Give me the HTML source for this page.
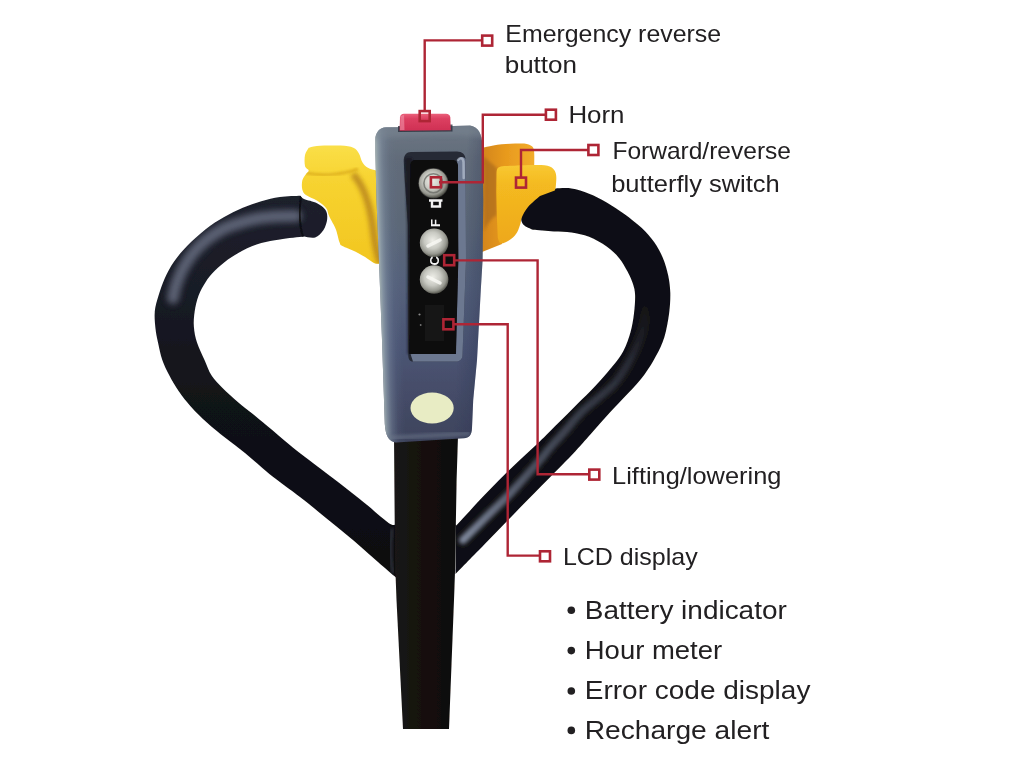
<!DOCTYPE html>
<html>
<head>
<meta charset="utf-8">
<title>Handle controls</title>
<style>
html,body{margin:0;padding:0;background:#ffffff;}
body{width:1024px;height:768px;overflow:hidden;font-family:"Liberation Sans",sans-serif;}
svg{display:block;}
text{font-family:"Liberation Sans",sans-serif;fill:#222022;}
</style>
</head>
<body>
<svg width="1024" height="768" viewBox="0 0 1024 768">
<defs>
  <linearGradient id="gHeadV" gradientUnits="userSpaceOnUse" x1="0" y1="126" x2="0" y2="442">
    <stop offset="0" stop-color="#6c7784"/>
    <stop offset="0.10" stop-color="#626c7a"/>
    <stop offset="0.30" stop-color="#5c6878"/>
    <stop offset="0.50" stop-color="#55617b"/>
    <stop offset="0.70" stop-color="#4b5574"/>
    <stop offset="0.85" stop-color="#454c68"/>
    <stop offset="1" stop-color="#3d435c"/>
  </linearGradient>
  <linearGradient id="gHL" gradientUnits="userSpaceOnUse" x1="375.3" y1="0" x2="396" y2="0" gradientTransform="matrix(1 0 0.0335 1 -4.690 0)">
    <stop offset="0" stop-color="#aab8b8" stop-opacity="0.85"/>
    <stop offset="0.12" stop-color="#98a8b2" stop-opacity="0.7"/>
    <stop offset="0.35" stop-color="#8494a8" stop-opacity="0.4"/>
    <stop offset="0.65" stop-color="#7484a0" stop-opacity="0.12"/>
    <stop offset="1" stop-color="#6a7a94" stop-opacity="0"/>
  </linearGradient>
  <linearGradient id="gHR" gradientUnits="userSpaceOnUse" x1="464" y1="0" x2="483.5" y2="0" gradientTransform="matrix(1 0 -0.0480 1 9.600 0)">
    <stop offset="0" stop-color="#2c3452" stop-opacity="0"/>
    <stop offset="1" stop-color="#2c3452" stop-opacity="0.32"/>
  </linearGradient>
  <radialGradient id="gBtn" cx="0.45" cy="0.42" r="0.58">
    <stop offset="0" stop-color="#eeeee8"/>
    <stop offset="0.5" stop-color="#c8c9c2"/>
    <stop offset="0.82" stop-color="#96978f"/>
    <stop offset="1" stop-color="#56574f"/>
  </radialGradient>
  <linearGradient id="gRed" x1="0" y1="0" x2="0" y2="1">
    <stop offset="0" stop-color="#ea5f7a"/>
    <stop offset="0.3" stop-color="#dc3f60"/>
    <stop offset="1" stop-color="#cf3054"/>
  </linearGradient>
  <linearGradient id="gLW" x1="0" y1="0" x2="0" y2="1">
    <stop offset="0" stop-color="#fadf48"/>
    <stop offset="0.3" stop-color="#f7d330"/>
    <stop offset="1" stop-color="#f2c620"/>
  </linearGradient>
  <linearGradient id="gRW" x1="0" y1="0" x2="0" y2="1">
    <stop offset="0" stop-color="#f8c832"/>
    <stop offset="0.25" stop-color="#f4ba20"/>
    <stop offset="1" stop-color="#eea81c"/>
  </linearGradient>
  <linearGradient id="gStem" gradientUnits="userSpaceOnUse" x1="394" y1="0" x2="458" y2="0">
    <stop offset="0" stop-color="#1a1715"/>
    <stop offset="0.5" stop-color="#14100d"/>
    <stop offset="1" stop-color="#0e0c0b"/>
  </linearGradient>
  <linearGradient id="gLT" gradientUnits="userSpaceOnUse" x1="0" y1="196" x2="0" y2="576">
    <stop offset="0" stop-color="#1d202c"/>
    <stop offset="0.3" stop-color="#181a24"/>
    <stop offset="0.55" stop-color="#111217"/>
    <stop offset="1" stop-color="#0e0d10"/>
  </linearGradient>
  <linearGradient id="gRHL" gradientUnits="userSpaceOnUse" x1="462" y1="541" x2="646" y2="300">
    <stop offset="0" stop-color="#8791a6" stop-opacity="0.95"/>
    <stop offset="0.30" stop-color="#727c92" stop-opacity="0.65"/>
    <stop offset="0.8" stop-color="#5a6378" stop-opacity="0.35"/>
    <stop offset="1" stop-color="#5a6378" stop-opacity="0"/>
  </linearGradient>
  <linearGradient id="gRWB" gradientUnits="userSpaceOnUse" x1="483" y1="0" x2="534" y2="0">
    <stop offset="0" stop-color="#d4861c"/>
    <stop offset="0.45" stop-color="#e89a1e"/>
    <stop offset="1" stop-color="#f2ac2a"/>
  </linearGradient>
  <filter id="soft" x="-5%" y="-5%" width="110%" height="110%"><feGaussianBlur stdDeviation="0.55"/></filter>
  <filter id="b05" x="-20%" y="-20%" width="140%" height="140%"><feGaussianBlur stdDeviation="0.6"/></filter>
  <filter id="b1" x="-20%" y="-20%" width="140%" height="140%"><feGaussianBlur stdDeviation="1"/></filter>
  <filter id="b15" x="-20%" y="-20%" width="140%" height="140%"><feGaussianBlur stdDeviation="1.5"/></filter>
  <filter id="b2" x="-20%" y="-20%" width="140%" height="140%"><feGaussianBlur stdDeviation="2"/></filter>
  <filter id="b3" x="-30%" y="-30%" width="160%" height="160%"><feGaussianBlur stdDeviation="3"/></filter>
  <clipPath id="cpHead"><path d="M386,127.3 L420,127 L470,125.6 C478,126.5 482.3,134 482.4,146 L483.3,200 L482.6,260 L480.8,290 L477,360 L473.2,400 L472,428 C471.8,435 469,438 464,438.3 L396,442.5 C389,442 385.6,436 384.8,424 L382,340 L379,262 L376.5,200 L375.3,150 L375.3,140 C375.3,132.5 380,127.3 386,127.3 Z"/></clipPath>
  <clipPath id="cpLT"><path d="M300.3,195.8 C296.9,196.0 286.4,196.1 279.9,197.0 C273.4,197.9 267.5,199.5 261.3,201.3 C255.1,203.1 249.0,205.2 242.8,207.8 C236.6,210.4 230.4,213.5 224.2,217.1 C218.0,220.7 211.9,224.4 205.7,229.2 C199.5,234.0 192.4,240.5 187.1,245.9 C181.8,251.3 177.8,256.2 174.1,261.6 C170.4,267.0 167.4,272.6 164.8,278.3 C162.2,284.0 160.1,290.5 158.4,296.0 C156.7,301.5 155.3,306.1 154.8,311.2 C154.3,316.4 154.8,321.7 155.3,326.9 C155.8,332.1 156.8,337.0 158.0,342.5 C159.2,348.0 160.4,354.5 162.3,360.0 C164.2,365.5 166.7,370.4 169.4,375.6 C172.1,380.8 175.1,386.0 178.8,391.2 C182.4,396.5 186.6,401.7 191.2,406.9 C195.9,412.1 201.2,417.3 206.9,422.5 C212.6,427.7 219.1,432.9 225.6,438.1 C232.1,443.3 238.6,447.8 245.9,453.8 C253.2,459.7 260.4,466.8 269.4,474.0 C278.4,481.2 290.6,489.7 300.0,497.0 C309.4,504.3 317.3,510.9 326.0,518.0 C334.7,525.0 343.3,532.0 352.0,539.3 C360.7,546.6 370.7,555.6 378.0,562.0 C385.3,568.4 393.0,574.9 396.0,577.5 L396.0,524.5 C394.8,524.2 393.7,526.5 388.6,523.0 C383.5,519.5 373.5,510.3 365.2,503.6 C356.9,496.9 347.2,489.2 339.0,482.8 C330.8,476.4 323.9,471.4 316.2,465.5 C308.6,459.6 300.1,453.4 292.8,447.5 C285.5,441.6 279.0,435.8 272.5,430.3 C266.0,424.8 259.5,419.4 253.8,414.7 C248.0,410.0 243.3,406.6 238.1,402.2 C232.9,397.8 226.9,392.5 222.5,388.1 C218.1,383.7 214.6,380.3 211.6,375.6 C208.6,370.9 206.9,365.5 204.5,360.0 C202.1,354.5 198.8,348.0 197.0,342.5 C195.2,337.0 194.3,332.1 193.9,326.9 C193.5,321.7 193.9,316.5 194.7,311.2 C195.5,306.0 196.8,300.5 198.6,295.6 C200.4,290.7 203.0,286.2 205.7,282.0 C208.4,277.8 211.3,274.3 215.0,270.6 C218.7,266.9 223.3,263.0 227.9,259.6 C232.5,256.2 237.2,253.2 242.8,250.4 C248.4,247.6 255.1,244.8 261.3,243.0 C267.5,241.2 272.8,240.5 279.9,239.4 C287.0,238.3 300.0,237.1 304.0,236.6 C305.9,236.8 311.9,238.6 315.2,237.5 C318.4,236.4 321.5,233.1 323.5,230.0 C325.5,226.9 326.9,222.4 327.2,219.0 C327.5,215.6 327.1,212.3 325.4,209.7 C323.7,207.1 320.6,205.0 317.0,203.2 C313.4,201.4 306.8,200.2 304.0,199.0 C301.2,197.8 300.9,196.3 300.3,195.8 Z"/></clipPath>
  <clipPath id="cpRT"><path d="M555.7,188.5 C558.3,188.5 565.9,187.6 571.5,188.5 C577.1,189.4 583.2,191.4 589.1,193.7 C595.0,196.0 600.8,199.1 606.7,202.5 C612.6,205.9 618.4,209.7 624.3,213.9 C630.1,218.2 636.8,223.3 641.8,228.0 C646.8,232.7 650.6,237.1 654.1,242.1 C657.6,247.1 660.5,252.3 662.9,257.9 C665.2,263.5 667.0,269.6 668.2,275.5 C669.4,281.4 670.1,286.7 670.3,293.0 C670.4,299.3 670.1,306.1 669.1,313.4 C668.1,320.7 666.5,329.9 664.4,336.9 C662.2,343.9 659.5,349.4 656.2,355.6 C652.9,361.9 649.2,368.1 644.5,374.4 C639.8,380.7 634.0,386.9 628.1,393.3 C622.2,399.7 615.6,406.2 609.4,413.0 C603.2,419.8 597.2,426.9 591.0,433.8 C584.8,440.7 580.5,445.9 572.3,454.5 C564.1,463.1 551.7,475.5 541.8,485.6 C531.9,495.7 522.6,505.2 513.0,515.0 C503.4,524.8 493.9,534.7 484.3,544.5 C474.7,554.3 460.3,569.1 455.5,574.0 L455.5,524.0 C455.9,524.0 452.9,528.8 457.7,524.0 C462.5,519.2 475.1,504.9 484.3,495.3 C493.5,485.7 503.9,475.3 513.0,466.5 C522.1,457.7 531.5,449.4 539.0,442.3 C546.5,435.2 551.5,429.9 557.8,423.6 C564.1,417.4 570.4,411.1 576.6,404.8 C582.9,398.6 589.4,392.4 595.3,386.1 C601.1,379.9 607.0,373.2 611.7,367.3 C616.4,361.4 620.3,356.8 623.4,350.9 C626.5,345.0 628.7,338.4 630.5,332.2 C632.3,325.9 633.2,319.6 634.0,313.4 C634.8,307.2 635.3,299.9 635.1,295.0 C634.9,290.1 634.2,287.8 633.0,284.0 C631.8,280.2 630.1,276.4 627.8,272.0 C625.5,267.6 622.5,262.1 619.0,257.9 C615.5,253.6 611.7,250.0 606.7,246.5 C601.7,243.0 595.0,239.2 589.1,236.8 C583.2,234.5 577.4,233.3 571.5,232.4 C565.6,231.5 560.3,231.9 553.9,231.5 C547.5,231.1 536.4,230.1 532.9,229.8 C531.3,228.9 525.1,226.8 523.2,224.5 C521.3,222.2 520.7,218.9 521.4,215.7 C522.1,212.5 524.5,208.9 527.6,205.2 C530.7,201.5 535.2,196.5 539.9,193.7 C544.6,190.9 553.1,189.4 555.7,188.5 Z"/></clipPath>
  <clipPath id="cpLW"><path d="M308.7,147.8 C310.1,147.4 311.6,146.3 316.9,145.9 C322.2,145.5 334.4,145.3 340.5,145.6 C346.6,145.9 350.3,146.5 353.3,147.8 C356.3,149.0 357.2,150.8 358.8,153.2 C360.3,155.6 360.9,159.9 362.4,162.3 C363.9,164.7 365.6,166.4 367.9,167.8 C370.2,169.2 374.6,170.1 376.0,170.5 L381.0,263.5 C380.0,263.5 377.3,264.2 375.1,263.4 C372.9,262.6 371.2,260.9 367.9,258.9 C364.6,256.9 359.4,253.7 355.1,251.6 C350.9,249.5 345.0,247.6 342.4,246.1 C339.8,244.6 340.7,245.2 339.6,242.5 C338.5,239.8 337.4,233.3 336.0,229.7 C334.6,226.0 332.6,223.0 331.4,220.6 C330.2,218.2 329.6,217.2 328.7,215.1 C327.8,213.0 328.0,210.3 326.0,207.9 C324.0,205.5 320.2,202.7 316.9,200.6 C313.5,198.5 308.3,196.9 305.9,195.1 C303.5,193.3 302.9,192.0 302.3,189.6 C301.7,187.2 301.7,183.1 302.3,180.5 C302.9,177.9 304.8,175.9 305.9,174.2 C307.0,172.5 308.8,171.9 308.7,170.5 C308.6,169.1 305.6,168.6 305.0,166.0 C304.4,163.4 304.4,158.0 305.0,155.0 C305.6,152.0 308.1,149.0 308.7,147.8 Z"/></clipPath>
  <clipPath id="cpRW"><path d="M496.5,176.0 C496.8,174.6 495.9,169.2 498.5,167.5 C501.1,165.8 506.2,166.2 512.0,165.8 C517.8,165.4 527.1,165.0 533.0,165.0 C538.9,165.0 544.0,165.0 547.5,165.8 C551.0,166.6 552.3,167.9 553.8,169.6 C555.2,171.3 555.9,173.0 556.2,175.8 C556.6,178.6 556.0,183.8 555.8,186.2 C555.6,188.7 555.0,189.8 554.8,190.5 L540.0,196.0 C538.0,197.8 531.0,203.5 528.0,207.0 C525.0,210.5 523.3,214.2 522.0,217.0 C520.7,219.8 521.2,221.2 520.4,223.8 C519.6,226.2 518.7,229.6 517.3,232.0 C515.9,234.4 514.0,236.6 512.0,238.3 C509.9,240.1 507.0,241.7 505.0,242.5 C503.0,243.3 501.2,243.8 500.0,243.0 C498.8,242.2 498.2,238.8 497.8,238.0 L496.8,215 L496.3,192 Z"/></clipPath>
</defs>
<rect width="1024" height="768" fill="#ffffff"/>


<g id="photo" filter="url(#soft)">
<!-- ===== LEFT HANDLE TUBE ===== -->
<g id="leftTube">
<path fill="url(#gLT)" d="M300.3,195.8 C296.9,196.0 286.4,196.1 279.9,197.0 C273.4,197.9 267.5,199.5 261.3,201.3 C255.1,203.1 249.0,205.2 242.8,207.8 C236.6,210.4 230.4,213.5 224.2,217.1 C218.0,220.7 211.9,224.4 205.7,229.2 C199.5,234.0 192.4,240.5 187.1,245.9 C181.8,251.3 177.8,256.2 174.1,261.6 C170.4,267.0 167.4,272.6 164.8,278.3 C162.2,284.0 160.1,290.5 158.4,296.0 C156.7,301.5 155.3,306.1 154.8,311.2 C154.3,316.4 154.8,321.7 155.3,326.9 C155.8,332.1 156.8,337.0 158.0,342.5 C159.2,348.0 160.4,354.5 162.3,360.0 C164.2,365.5 166.7,370.4 169.4,375.6 C172.1,380.8 175.1,386.0 178.8,391.2 C182.4,396.5 186.6,401.7 191.2,406.9 C195.9,412.1 201.2,417.3 206.9,422.5 C212.6,427.7 219.1,432.9 225.6,438.1 C232.1,443.3 238.6,447.8 245.9,453.8 C253.2,459.7 260.4,466.8 269.4,474.0 C278.4,481.2 290.6,489.7 300.0,497.0 C309.4,504.3 317.3,510.9 326.0,518.0 C334.7,525.0 343.3,532.0 352.0,539.3 C360.7,546.6 370.7,555.6 378.0,562.0 C385.3,568.4 393.0,574.9 396.0,577.5 L396.0,524.5 C394.8,524.2 393.7,526.5 388.6,523.0 C383.5,519.5 373.5,510.3 365.2,503.6 C356.9,496.9 347.2,489.2 339.0,482.8 C330.8,476.4 323.9,471.4 316.2,465.5 C308.6,459.6 300.1,453.4 292.8,447.5 C285.5,441.6 279.0,435.8 272.5,430.3 C266.0,424.8 259.5,419.4 253.8,414.7 C248.0,410.0 243.3,406.6 238.1,402.2 C232.9,397.8 226.9,392.5 222.5,388.1 C218.1,383.7 214.6,380.3 211.6,375.6 C208.6,370.9 206.9,365.5 204.5,360.0 C202.1,354.5 198.8,348.0 197.0,342.5 C195.2,337.0 194.3,332.1 193.9,326.9 C193.5,321.7 193.9,316.5 194.7,311.2 C195.5,306.0 196.8,300.5 198.6,295.6 C200.4,290.7 203.0,286.2 205.7,282.0 C208.4,277.8 211.3,274.3 215.0,270.6 C218.7,266.9 223.3,263.0 227.9,259.6 C232.5,256.2 237.2,253.2 242.8,250.4 C248.4,247.6 255.1,244.8 261.3,243.0 C267.5,241.2 272.8,240.5 279.9,239.4 C287.0,238.3 300.0,237.1 304.0,236.6 C305.9,236.8 311.9,238.6 315.2,237.5 C318.4,236.4 321.5,233.1 323.5,230.0 C325.5,226.9 326.9,222.4 327.2,219.0 C327.5,215.6 327.1,212.3 325.4,209.7 C323.7,207.1 320.6,205.0 317.0,203.2 C313.4,201.4 306.8,200.2 304.0,199.0 C301.2,197.8 300.9,196.3 300.3,195.8 Z"/>
<g clip-path="url(#cpLT)">
<path fill="none" stroke="#6a7185" stroke-width="12" stroke-linecap="round" opacity="0.8" filter="url(#b3)" d="M296.0,216.0 C293.3,216.0 285.7,215.9 279.9,216.2 C274.1,216.5 267.5,216.9 261.3,217.8 C255.1,218.8 249.0,220.1 242.8,221.9 C236.6,223.7 230.1,225.7 224.2,228.5 C218.3,231.3 212.5,235.1 207.5,239.0 C202.5,242.9 198.0,247.2 194.0,252.0 C190.0,256.8 186.5,262.0 183.5,267.5 C180.5,273.0 177.8,279.9 176.0,285.0 C174.2,290.1 173.5,295.8 173.0,298.0"/>
<path fill="none" stroke="#0a0a0e" stroke-width="2" opacity="0.8" filter="url(#b05)" d="M301,196 C299,210 299,224 303,237"/>
<path fill="none" stroke="#3a3f4c" stroke-width="4" stroke-linecap="round" opacity="0.6" filter="url(#b15)" d="M392,530 C390,545 390,560 393,572"/>
</g>
</g>

<!-- ===== RIGHT HANDLE TUBE ===== -->
<g id="rightTube">
<path fill="#0f0f13" d="M555.7,188.5 C558.3,188.5 565.9,187.6 571.5,188.5 C577.1,189.4 583.2,191.4 589.1,193.7 C595.0,196.0 600.8,199.1 606.7,202.5 C612.6,205.9 618.4,209.7 624.3,213.9 C630.1,218.2 636.8,223.3 641.8,228.0 C646.8,232.7 650.6,237.1 654.1,242.1 C657.6,247.1 660.5,252.3 662.9,257.9 C665.2,263.5 667.0,269.6 668.2,275.5 C669.4,281.4 670.1,286.7 670.3,293.0 C670.4,299.3 670.1,306.1 669.1,313.4 C668.1,320.7 666.5,329.9 664.4,336.9 C662.2,343.9 659.5,349.4 656.2,355.6 C652.9,361.9 649.2,368.1 644.5,374.4 C639.8,380.7 634.0,386.9 628.1,393.3 C622.2,399.7 615.6,406.2 609.4,413.0 C603.2,419.8 597.2,426.9 591.0,433.8 C584.8,440.7 580.5,445.9 572.3,454.5 C564.1,463.1 551.7,475.5 541.8,485.6 C531.9,495.7 522.6,505.2 513.0,515.0 C503.4,524.8 493.9,534.7 484.3,544.5 C474.7,554.3 460.3,569.1 455.5,574.0 L455.5,524.0 C455.9,524.0 452.9,528.8 457.7,524.0 C462.5,519.2 475.1,504.9 484.3,495.3 C493.5,485.7 503.9,475.3 513.0,466.5 C522.1,457.7 531.5,449.4 539.0,442.3 C546.5,435.2 551.5,429.9 557.8,423.6 C564.1,417.4 570.4,411.1 576.6,404.8 C582.9,398.6 589.4,392.4 595.3,386.1 C601.1,379.9 607.0,373.2 611.7,367.3 C616.4,361.4 620.3,356.8 623.4,350.9 C626.5,345.0 628.7,338.4 630.5,332.2 C632.3,325.9 633.2,319.6 634.0,313.4 C634.8,307.2 635.3,299.9 635.1,295.0 C634.9,290.1 634.2,287.8 633.0,284.0 C631.8,280.2 630.1,276.4 627.8,272.0 C625.5,267.6 622.5,262.1 619.0,257.9 C615.5,253.6 611.7,250.0 606.7,246.5 C601.7,243.0 595.0,239.2 589.1,236.8 C583.2,234.5 577.4,233.3 571.5,232.4 C565.6,231.5 560.3,231.9 553.9,231.5 C547.5,231.1 536.4,230.1 532.9,229.8 C531.3,228.9 525.1,226.8 523.2,224.5 C521.3,222.2 520.7,218.9 521.4,215.7 C522.1,212.5 524.5,208.9 527.6,205.2 C530.7,201.5 535.2,196.5 539.9,193.7 C544.6,190.9 553.1,189.4 555.7,188.5 Z"/>
<g clip-path="url(#cpRT)">
<path fill="none" stroke="url(#gRHL)" stroke-width="8" stroke-linecap="round" filter="url(#b2)" d="M646.0,300.0 C645.7,304.2 645.7,317.0 644.0,325.0 C642.3,333.0 639.0,341.0 636.0,348.0 C633.0,355.0 629.7,361.0 626.0,367.0 C622.3,373.0 618.7,378.8 614.0,384.0 C609.3,389.2 603.5,393.2 598.0,398.0 C592.5,402.8 586.5,407.0 581.0,412.5 C575.5,418.0 570.5,424.8 565.0,431.0 C559.5,437.2 551.9,445.5 548.0,450.0 C544.1,454.5 547.6,451.3 541.8,458.0 C536.0,464.7 522.6,480.2 513.0,490.4 C503.4,500.6 492.6,510.7 484.3,519.0 C476.0,527.3 466.6,536.5 463.0,540.0"/>
</g>
</g>

<!-- ===== STEM ===== -->
<path id="stem" fill="url(#gStem)" d="M394,436 L458,436 L456.6,480 L455,572 L454,600 L449,729 L403,729 L396.500,600 L395,560 Z"/>

<!-- ===== YELLOW WINGS ===== -->
<g id="leftWing">
<path fill="url(#gLW)" d="M308.7,147.8 C310.1,147.4 311.6,146.3 316.9,145.9 C322.2,145.5 334.4,145.3 340.5,145.6 C346.6,145.9 350.3,146.5 353.3,147.8 C356.3,149.0 357.2,150.8 358.8,153.2 C360.3,155.6 360.9,159.9 362.4,162.3 C363.9,164.7 365.6,166.4 367.9,167.8 C370.2,169.2 374.6,170.1 376.0,170.5 L381.0,263.5 C380.0,263.5 377.3,264.2 375.1,263.4 C372.9,262.6 371.2,260.9 367.9,258.9 C364.6,256.9 359.4,253.7 355.1,251.6 C350.9,249.5 345.0,247.6 342.4,246.1 C339.8,244.6 340.7,245.2 339.6,242.5 C338.5,239.8 337.4,233.3 336.0,229.7 C334.6,226.0 332.6,223.0 331.4,220.6 C330.2,218.2 329.6,217.2 328.7,215.1 C327.8,213.0 328.0,210.3 326.0,207.9 C324.0,205.5 320.2,202.7 316.9,200.6 C313.5,198.5 308.3,196.9 305.9,195.1 C303.5,193.3 302.9,192.0 302.3,189.6 C301.7,187.2 301.7,183.1 302.3,180.5 C302.9,177.9 304.8,175.9 305.9,174.2 C307.0,172.5 308.8,171.9 308.7,170.5 C308.6,169.1 305.6,168.6 305.0,166.0 C304.4,163.4 304.4,158.0 305.0,155.0 C305.6,152.0 308.1,149.0 308.7,147.8 Z"/>
<g clip-path="url(#cpLW)">
<path fill="none" stroke="#b07c1a" stroke-width="7" opacity="0.75" filter="url(#b2)" d="M353,174 C364,186 370,205 373,228 C375,245 377,256 381,264"/>
<path fill="none" stroke="#d8a81c" stroke-width="3" opacity="0.7" filter="url(#b1)" d="M306,173 C322,176 342,175 358,169"/>
<path fill="none" stroke="#fbe77a" stroke-width="4" opacity="0.6" filter="url(#b15)" d="M312,150 L350,150"/>
</g>
</g>

<g id="rightWing">
<path fill="url(#gRWB)" d="M482.0,148.0 C482.8,147.8 483.7,147.3 487.0,146.7 C490.3,146.1 495.8,144.7 501.7,144.2 C507.6,143.7 517.6,143.3 522.5,143.5 C527.4,143.7 528.9,144.4 530.8,145.6 C532.7,146.8 533.4,147.1 534.0,150.8 C534.6,154.5 534.2,165.1 534.2,168.0 L500,172 L502,244 L492,248 L482,252 Z"/>
<path fill="#a8681a" opacity="0.65" filter="url(#b15)" d="M483,156 L497,168 L497,215 C492,218 488,222 484,232 Z"/>
<path fill="url(#gRW)" d="M496.5,176.0 C496.8,174.6 495.9,169.2 498.5,167.5 C501.1,165.8 506.2,166.2 512.0,165.8 C517.8,165.4 527.1,165.0 533.0,165.0 C538.9,165.0 544.0,165.0 547.5,165.8 C551.0,166.6 552.3,167.9 553.8,169.6 C555.2,171.3 555.9,173.0 556.2,175.8 C556.6,178.6 556.0,183.8 555.8,186.2 C555.6,188.7 555.0,189.8 554.8,190.5 L540.0,196.0 C538.0,197.8 531.0,203.5 528.0,207.0 C525.0,210.5 523.3,214.2 522.0,217.0 C520.7,219.8 521.2,221.2 520.4,223.8 C519.6,226.2 518.7,229.6 517.3,232.0 C515.9,234.4 514.0,236.6 512.0,238.3 C509.9,240.1 507.0,241.7 505.0,242.5 C503.0,243.3 501.2,243.8 500.0,243.0 C498.8,242.2 498.2,238.8 497.8,238.0 L496.8,215 L496.3,192 Z"/>
</g>


<!-- ===== GREY HEAD ===== -->
<g id="head">
<path fill="url(#gHeadV)" d="M386,127.3 L420,127 L470,125.6 C478,126.5 482.3,134 482.4,146 L483.3,200 L482.6,260 L480.8,290 L477,360 L473.2,400 L472,428 C471.8,435 469,438 464,438.3 L396,442.5 C389,442 385.6,436 384.8,424 L382,340 L379,262 L376.5,200 L375.3,150 L375.3,140 C375.3,132.5 380,127.3 386,127.3 Z"/>
<path fill="url(#gHL)" d="M386,127.3 L420,127 L470,125.6 C478,126.5 482.3,134 482.4,146 L483.3,200 L482.6,260 L480.8,290 L477,360 L473.2,400 L472,428 C471.8,435 469,438 464,438.3 L396,442.5 C389,442 385.6,436 384.8,424 L382,340 L379,262 L376.5,200 L375.3,150 L375.3,140 C375.3,132.5 380,127.3 386,127.3 Z"/>
<path fill="url(#gHR)" d="M386,127.3 L420,127 L470,125.6 C478,126.5 482.3,134 482.4,146 L483.3,200 L482.6,260 L480.8,290 L477,360 L473.2,400 L472,428 C471.8,435 469,438 464,438.3 L396,442.5 C389,442 385.6,436 384.8,424 L382,340 L379,262 L376.5,200 L375.3,150 L375.3,140 C375.3,132.5 380,127.3 386,127.3 Z"/>
<g clip-path="url(#cpHead)">
<!-- top surface lighter band -->
<path fill="#7a8592" opacity="0.5" filter="url(#b2)" d="M374,124 L484,124 L484,138 C470,134 390,136 374,140 Z"/>
</g>
<g clip-path="url(#cpHead)"><path fill="none" stroke="#6a7488" stroke-width="5" opacity="0.55" filter="url(#b15)" d="M386,438 L470,433.500"/></g>
<!-- recess -->
<path fill="#262a36" d="M403.800,161 C403.800,155 406.500,152 411,152 L457,151.500 C462,151.500 465.500,154.500 465.500,159 L466,260 L462.500,355 C462.500,359 460,361.500 456,361.500 L413,361.500 C409.500,361.500 408.300,359 408.300,355 L408,225 C406,200 404.500,180 403.800,161 Z"/>
<path fill="#8492ae" opacity="0.75" filter="url(#b05)" d="M457,162 C459,156.500 463,155.500 465.500,159 L466,260 L462.500,355 C462.500,359 460,361.500 456,361.500 L413,361.500 L410.500,354 L456,354 L458.300,260 Z"/>
<path fill="none" stroke="#c4cedc" stroke-width="2.500" stroke-linecap="round" opacity="0.6" filter="url(#b05)" d="M458,160 C460.500,157 463,158 463.500,162 L463.700,178"/>
<path fill="#15171e" opacity="0.7" filter="url(#b1)" d="M405,158 L412,158 L411,354 L407.500,354 L407,225 Z"/>
<!-- black panel -->
<path fill="#0c0b0c" d="M410.300,165 C410.300,162 412,160 415,160 L452,160 C455.500,160 458,162 458,165.500 L458.300,260 L455.800,354 L409.300,354 Z"/>
<!-- buttons -->
<g>
<circle cx="433.400" cy="183.200" r="15.200" fill="#3a3a38"/>
<circle cx="433.400" cy="183.200" r="14.500" fill="url(#gBtn)"/>
<circle cx="433.400" cy="183.200" r="9.500" fill="none" stroke="#686964" stroke-width="1.600" opacity="0.75"/>
<circle cx="434.100" cy="242.800" r="14.300" fill="url(#gBtn)"/>
<circle cx="434.100" cy="279.500" r="14.300" fill="url(#gBtn)"/>
<path stroke="#fafaf6" stroke-width="3.500" stroke-linecap="round" opacity="0.8" filter="url(#b05)" d="M428,246 L440,240 M428,277 L440,283"/>
</g>
<!-- panel lettering -->
<g font-weight="bold" font-size="13">
<text transform="translate(439.500,227) rotate(-90)" style="fill:#f4f4f4">F</text>
<text transform="translate(438.500,265.500) rotate(-90)" style="fill:#f4f4f4">C</text>
</g>
<path fill="none" stroke="#f2f2f2" stroke-width="2.400" d="M429,200.500 L442.500,200.500 M432,201 L432,206.500 L440,206.500 L440,201"/>
<rect x="424" y="304" width="21" height="38" rx="2" fill="#161618" filter="url(#b1)"/>
<circle cx="419.500" cy="314.500" r="1.100" fill="#8a8a8a"/><circle cx="420.700" cy="325" r="0.900" fill="#777"/>
<!-- oval badge -->
<ellipse cx="432.100" cy="408" rx="21.600" ry="15.400" fill="#e8ecc4"/>
</g>

<!-- ===== RED BUTTON ===== -->
<g id="redBtn">
<path fill="#2a2e38" opacity="0.8" filter="url(#b05)" d="M398,126 L452.500,124.500 L452.500,131.500 L398,132 Z"/>
<path fill="url(#gRed)" d="M399.600,130.800 L400,117.500 C400.300,115 401.500,113.800 404,113.800 L446,113.800 C448.500,113.800 450,115 450.300,117.500 L450.800,130.300 Z"/>
<path fill="#f39ab0" opacity="0.55" filter="url(#b05)" d="M400.500,116 L404,115 L404.500,130 L400,130 Z"/>
</g>

</g>
<!-- ===== CALLOUT LINES ===== -->
<g id="callouts" fill="none" stroke="#ae2535" stroke-width="2.400">
<path d="M424.700,111 L424.700,40.400 L482,40.400"/>
<path d="M439,182.300 L482.800,182.300 L482.800,114.700 L545.700,114.700"/>
<path d="M521,177.500 L521,150 L588.300,150"/>
<path d="M454.500,260.400 L537.600,260.400 L537.600,474.200 L589,474.200"/>
<path d="M454,324.300 L507.700,324.300 L507.700,555.600 L540,555.600"/>
<g stroke-width="2.600">
<rect x="419.700" y="111.100" width="10" height="10"/>
<rect x="482.200" y="35.600" width="10" height="10"/>
<rect x="430.900" y="177.300" width="10" height="10"/>
<rect x="545.900" y="109.700" width="10" height="10"/>
<rect x="516" y="177.600" width="10" height="10"/>
<rect x="588.400" y="145" width="10" height="10"/>
<rect x="444.200" y="255.200" width="10" height="10"/>
<rect x="589.300" y="469.600" width="10" height="10"/>
<rect x="443.400" y="319.300" width="10" height="10"/>
<rect x="540" y="551.300" width="10" height="10"/>
</g>
</g>

<!-- ===== LABELS ===== -->
<g id="labels" font-size="24">
<text x="505.300" y="42" textLength="215.800" lengthAdjust="spacingAndGlyphs">Emergency reverse</text>
<text x="504.700" y="73" textLength="72.300" lengthAdjust="spacingAndGlyphs">button</text>
<text x="568.400" y="122.500" textLength="56.100" lengthAdjust="spacingAndGlyphs">Horn</text>
<text x="612.400" y="158.700" textLength="178.600" lengthAdjust="spacingAndGlyphs">Forward/reverse</text>
<text x="611.200" y="191.700" textLength="168.600" lengthAdjust="spacingAndGlyphs">butterfly switch</text>
<text x="612.100" y="483.500" textLength="169.300" lengthAdjust="spacingAndGlyphs">Lifting/lowering</text>
<text x="562.900" y="564.500" textLength="134.800" lengthAdjust="spacingAndGlyphs">LCD display</text>
</g>
<g id="bullets" font-size="26">
<circle cx="571.300" cy="610.200" r="3.800" fill="#222022"/>
<circle cx="571.300" cy="650.600" r="3.800" fill="#222022"/>
<circle cx="571.300" cy="691" r="3.800" fill="#222022"/>
<circle cx="571.300" cy="730.400" r="3.800" fill="#222022"/>
<text x="584.800" y="618.500" textLength="202" lengthAdjust="spacingAndGlyphs">Battery indicator</text>
<text x="584.800" y="659" textLength="137.300" lengthAdjust="spacingAndGlyphs">Hour meter</text>
<text x="584.800" y="699.300" textLength="225.600" lengthAdjust="spacingAndGlyphs">Error code display</text>
<text x="584.700" y="738.700" textLength="184.700" lengthAdjust="spacingAndGlyphs">Recharge alert</text>
</g>
</svg>
</body>
</html>
